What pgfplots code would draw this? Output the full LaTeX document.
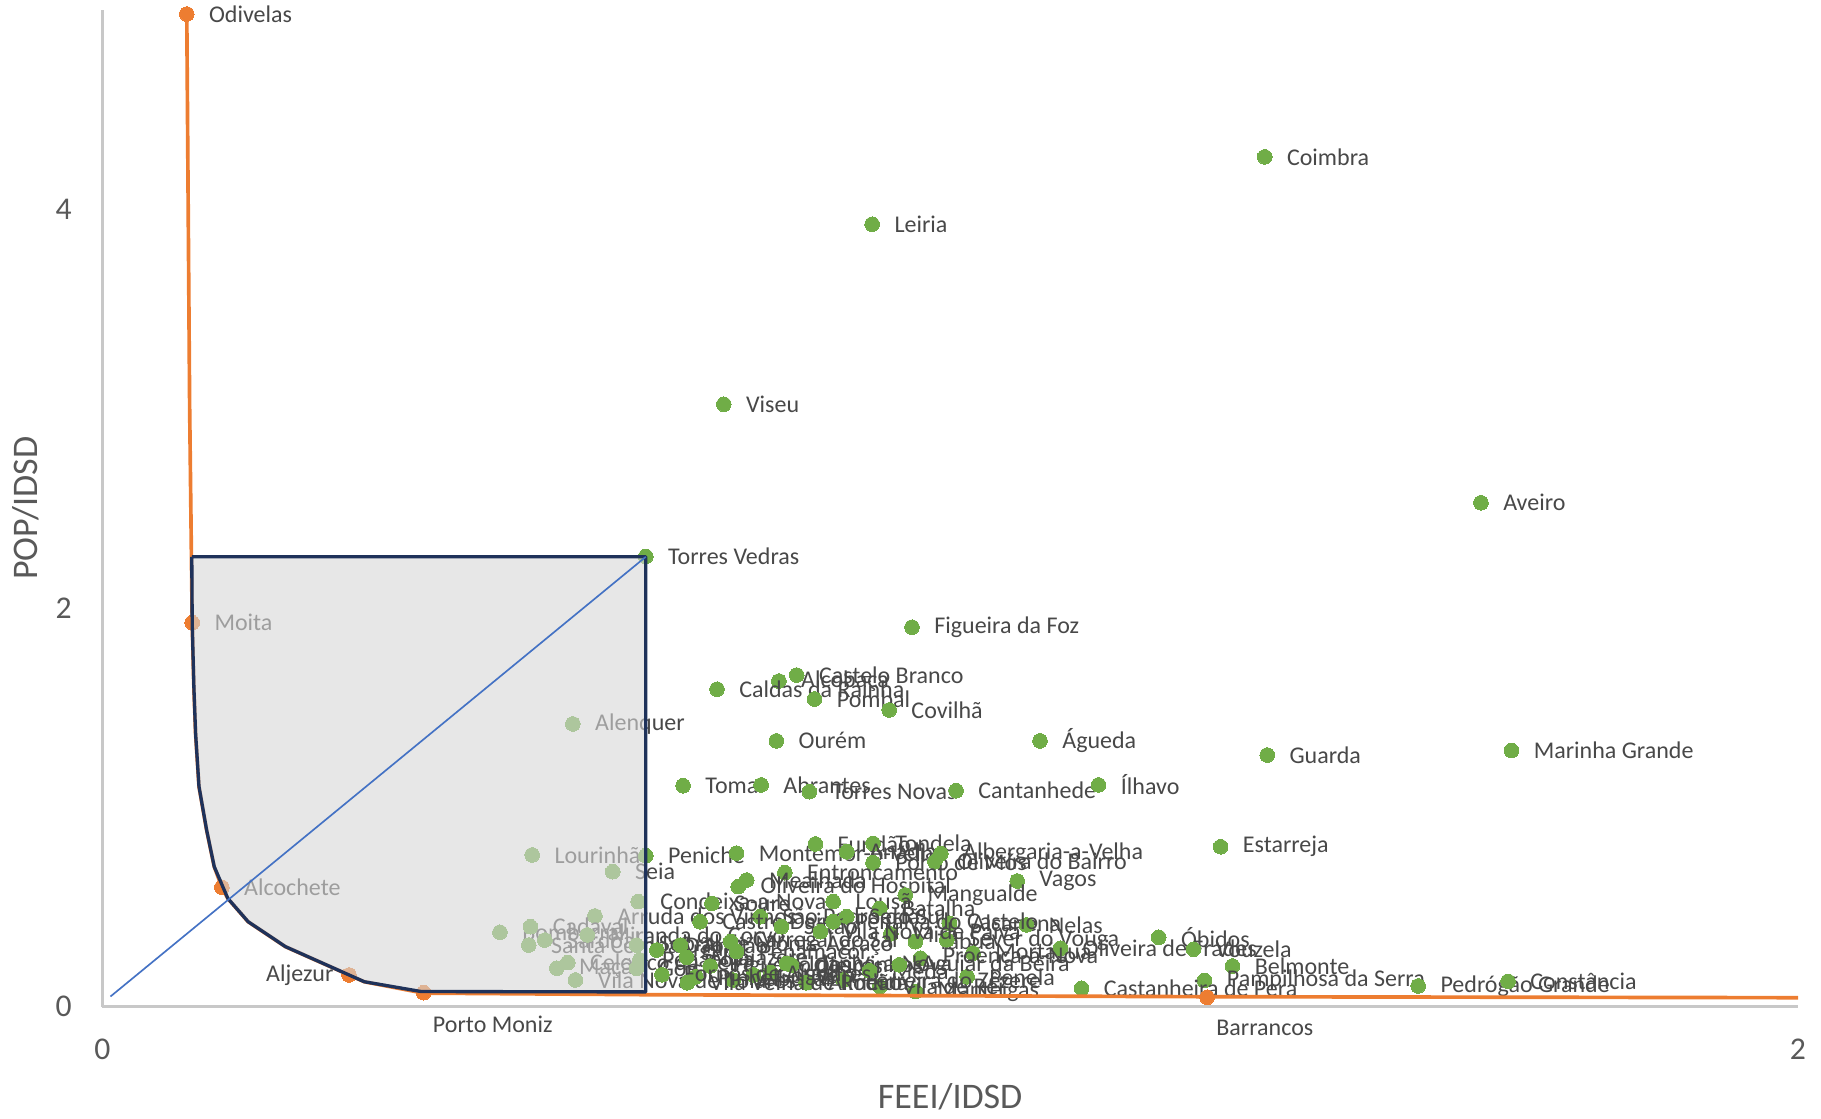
\documentclass[border=0pt]{standalone}
\usepackage{fontspec}
\setmainfont{Carlito}
\usepackage{pgfplots}
\pgfplotsset{compat=1.18}
\usepackage{pgfplotstable}
\definecolor{xlgreen}{RGB}{112,173,71}
\definecolor{xlorange}{RGB}{237,125,49}
\definecolor{xlblue}{RGB}{68,114,196}
\definecolor{navyc}{RGB}{31,50,90}
\definecolor{txtgray}{RGB}{89,89,89}
\definecolor{lblgray}{RGB}{72,72,72}
\definecolor{axgray}{RGB}{200,200,200}
\definecolor{boxgray}{RGB}{215,215,215}
\newcommand\lblfont{\fontsize{7.2}{8.6}\selectfont}

\pgfplotstableread[col sep=comma]{
x,y,label
1.371,4.262,Coimbra
0.908,3.924,Leiria
0.733,3.021,Viseu
1.626,2.527,Aveiro
0.641,2.258,Torres Vedras
0.955,1.903,Figueira da Foz
0.819,1.663,Castelo Branco
0.798,1.633,Alcobaça
0.725,1.592,Caldas da Rainha
0.840,1.543,Pombal
0.928,1.488,Covilhã
0.555,1.418,Alenquer
0.795,1.333,Ourém
1.106,1.333,Águeda
1.662,1.285,Marinha Grande
1.374,1.262,Guarda
0.685,1.108,Tomar
0.777,1.112,Abrantes
0.834,1.078,Torres Novas
1.007,1.083,Cantanhede
1.175,1.112,Ílhavo
1.319,0.802,Estarreja
0.507,0.761,Lourinhã
0.641,0.757,Peniche
0.748,0.770,Montemor-o-Velho
0.841,0.816,Fundão
0.909,0.819,Tondela
0.878,0.777,Anadia
0.909,0.722,Porto de Mós
0.989,0.768,Albergaria-a-Velha
0.982,0.727,Oliveira do Bairro
0.602,0.677,Seia
0.805,0.672,Entroncamento
0.760,0.635,Mealhada
0.750,0.602,Oliveira do Hospital
1.079,0.630,Vagos
0.947,0.560,Mangualde
0.632,0.527,Condeixa-a-Nova
0.719,0.518,Soure
0.862,0.527,Lousã
0.917,0.493,Batalha
0.581,0.455,Arruda dos Vinhos
0.776,0.451,São Pedro do Sul
0.878,0.451,Sertã
0.705,0.426,Castro Daire
0.999,0.418,Alcanena
1.090,0.410,Nelas
0.930,0.365,Mira
0.959,0.326,Tábua
0.996,0.335,Sever do Vouga
1.027,0.268,Mortágua
1.130,0.293,Oliveira de Frades
1.246,0.348,Óbidos
1.287,0.288,Vouzela
1.333,0.204,Belmonte
1.300,0.131,Pampilhosa da Serra
1.155,0.092,Castanheira de Pera
1.552,0.104,Pedrógão Grande
1.658,0.127,Constância
0.959,0.076,Manteigas
0.917,0.101,Vila de Rei
1.020,0.150,Penela
0.965,0.243,Proença-a-Nova
0.469,0.373,Bombarral
0.505,0.401,Cadaval
0.503,0.309,Santa Comba Dão
0.522,0.334,Sardoal
0.572,0.360,Miranda do Corvo
0.536,0.193,Mação
0.549,0.221,Celorico da Beira
0.558,0.134,Vila Nova de Poiares
0.630,0.309,Sobral de Monte Agraço
0.634,0.234,Penacova
0.630,0.193,Góis
0.654,0.284,Arganil
0.682,0.309,Ansião
0.689,0.248,Alvaiázere
0.717,0.204,Figueiró dos Vinhos
0.741,0.326,Carregal do Sal
0.744,0.134,Sabugal
0.768,0.159,Gouveia
0.788,0.171,Trancoso
0.748,0.276,Penamacor
0.801,0.401,Sátão
0.813,0.209,Oleiros
0.862,0.426,Penalva do Castelo
0.847,0.376,Vila Nova de Paiva
0.807,0.217,Idanha-a-Nova
0.874,0.134,Ferreira do Zêzere
0.700,0.150,Pinhel
0.830,0.120,Almeida
0.905,0.180,Mêda
0.940,0.210,Aguiar da Beira
0.660,0.160,Fornos de Algodres
0.690,0.120,Vila Velha de Ródão
}\greendata

\begin{document}
\begin{tikzpicture}
\begin{axis}[
  at={(0,0)}, anchor=south west,
  scale only axis, width=508.7pt, height=299.1pt,
  xmin=0, xmax=2, ymin=0, ymax=5,
  clip=false, clip mode=individual,
  axis lines=left,
  axis line style={-, draw=axgray, line width=1pt},
  xtick={0,2}, ytick={0,2,4},
  major tick length=0pt,
  tick style={draw=none},
  /pgf/number format/assume math mode=true,
  ticklabel style={font=\fontsize{9.5}{11}\selectfont, text=txtgray},
  xticklabel style={anchor=north, inner sep=0pt, yshift=-9.6pt},
  yticklabel style={anchor=east, inner sep=0pt, xshift=-9pt},
  xlabel={FEEI/IDSD}, ylabel={POP/IDSD},
  label style={font=\fontsize{10.8}{13}\selectfont, text=txtgray},
  xlabel style={at={([yshift=-26.9pt]axis description cs:0.5,0)}, anchor=center, inner sep=0pt},
  ylabel style={at={([xshift=-23pt]axis description cs:0,0.5)}, anchor=center, inner sep=0pt},
  lbl/.style={point meta=explicit symbolic, nodes near coords,
    every node near coord/.append style={inner sep=0pt, font=\lblfont, text=lblgray}},
  dot/.style={only marks, mark=*, mark size=2.2pt, mark options={draw=#1, fill=#1, line width=0pt}},
]
% green municipalities
\addplot[color=xlgreen, dot=xlgreen,
  lbl, every node near coord/.append style={anchor=west, xshift=6.7pt}]
  table[x=x, y=y, meta=label]{\greendata};
% orange frontier line (traced)
\addplot[xlorange, line width=1.1pt, no marks, line join=round] coordinates {
  (0.0996,4.978) (0.103,3.0) (0.106,1.926) (0.108,1.60) (0.110,1.37) (0.114,1.104)
  (0.123,0.886) (0.132,0.702) (0.141,0.599) (0.148,0.543) (0.172,0.426) (0.216,0.301)
  (0.291,0.159) (0.309,0.125) (0.379,0.068) (0.641,0.060) (1.303,0.050) (2,0.045)};
% orange points
\addplot[color=xlorange, dot=xlorange,
  lbl, every node near coord/.append style={anchor=west, xshift=6.7pt}]
  coordinates {(0.0996,4.978) [Odivelas] (0.106,1.926) [Moita] (0.141,0.599) [Alcochete]};
\addplot[color=xlorange, dot=xlorange,
  lbl, every node near coord/.append style={anchor=east, xshift=-4.7pt}]
  coordinates {(0.291,0.159) [Aljezur]};
\addplot[color=xlorange, dot=xlorange,
  lbl, every node near coord/.append style={anchor=north west, xshift=2.8pt, yshift=-6.9pt}]
  coordinates {(0.379,0.070) [Porto Moniz] (1.303,0.047) [Barrancos]};
% grey region
\addplot[draw=navyc, line width=1pt, fill=boxgray, fill opacity=0.6, line join=round, no marks]
  coordinates {(0.1055,2.256) (0.106,1.926) (0.108,1.60) (0.110,1.37) (0.114,1.104)
  (0.123,0.886) (0.132,0.702) (0.148,0.543) (0.172,0.426) (0.216,0.301) (0.309,0.125)
  (0.376,0.076) (0.641,0.074) (0.641,2.256) (0.1055,2.256)};
% diagonal
\addplot[xlblue, line width=0.5pt, no marks] coordinates {(0.0096,0.051) (0.641,2.256)};
\end{axis}
\pgfresetboundingbox
\path[use as bounding box] (-30.7pt,-33.4pt) rectangle (515.6pt,302pt);
\end{tikzpicture}
\end{document}
